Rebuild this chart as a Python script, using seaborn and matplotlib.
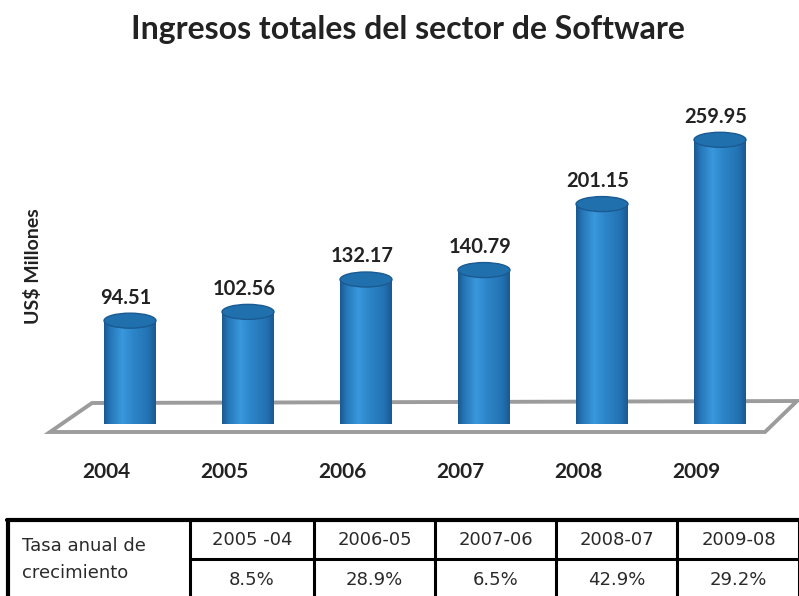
import numpy as np
import matplotlib
matplotlib.use("Agg")
import matplotlib.pyplot as plt
import seaborn as sns
from matplotlib.colors import LinearSegmentedColormap
from matplotlib.patches import Ellipse, Polygon
from matplotlib.transforms import offset_copy

# data
years = ["2004", "2005", "2006", "2007", "2008", "2009"]
ingresos = [94.51, 102.56, 132.17, 140.79, 201.15, 259.95]
periodos = ["2005 -04", "2006-05", "2007-06", "2008-07", "2009-08"]
tasas = ["8.5%", "28.9%", "6.5%", "42.9%", "29.2%"]

sns.set_style("white")
plt.rcParams["font.family"] = ["Lato", "DejaVu Sans"]

W, H = 799, 596
fig = plt.figure(figsize=(W / 100, H / 100), dpi=100)
base_px, top_px = 424, 96  # y pixel of value 0 and value 300
ax = fig.add_axes([71 / W, (H - base_px) / H, 708 / W, (base_px - top_px) / H])

bar_w = 0.44
sns.barplot(x=years, y=ingresos, color="#2a80c4", width=bar_w, ax=ax,
            saturation=1, zorder=3)
ax.set_xlim(-0.5, 5.5)
ax.set_ylim(0, 300)
sns.despine(ax=ax, left=True, bottom=True)
ax.set_yticks([])
ax.tick_params(axis="x", length=0, pad=27)
for lab in ax.get_xticklabels():
    lab.set_fontsize(15)
    lab.set_fontweight("bold")
    lab.set_color("#222222")
    lab.set_transform(offset_copy(lab.get_transform(), fig=fig, x=-24, units="dots"))
ax.set_xlabel("")
ax.set_ylabel("US$ Millones", fontsize=14, fontweight="bold", color="#222222")
ax.yaxis.set_label_coords(-29 / 708, 0.48)

# floor slab (figure pixels)
def fp(x, y):
    return (x / W, 1 - y / H)

floor = Polygon([fp(50, 432), fp(765, 432), fp(797, 401), fp(92, 403)],
                closed=True, facecolor="white", edgecolor="#9c9c9c", lw=2.8,
                transform=fig.transFigure, zorder=0)
fig.add_artist(floor)
ax.set_zorder(1)
ax.patch.set_alpha(0)

# cylinder shading
cmap = LinearSegmentedColormap.from_list(
    "cyl", [(0, "#1a5a92"), (0.12, "#2677b8"), (0.35, "#3a98dc"),
            (0.55, "#2d86c9"), (0.85, "#2373b4"), (1, "#1a5a92")])
grad = np.linspace(0, 1, 64).reshape(1, -1)
ell_h = 15 * 300 / (base_px - top_px)  # ellipse height in data units (~15 px)
for patch, val in zip(ax.patches, ingresos):
    x0, w = patch.get_x(), patch.get_width()
    xc = x0 + w / 2
    patch.set_alpha(0)
    ax.imshow(grad, cmap=cmap, aspect="auto", extent=[x0, x0 + w, 0, val],
              zorder=3, interpolation="bilinear")
    # rounded bottom
    bot = Ellipse((xc, 0), w, ell_h, facecolor="#2473b4", edgecolor="none", zorder=2.9)
    ax.add_patch(bot)
    # top face
    top = Ellipse((xc, val), w, ell_h, facecolor="#2170ae", edgecolor="#1a5a92",
                  lw=1, zorder=4)
    ax.add_patch(top)
    ax.annotate(f"{val:.2f}", (xc, val + ell_h / 2), xytext=(-3, 4),
                textcoords="offset points", ha="center", va="bottom",
                fontsize=14.5, fontweight="bold", color="#222222", zorder=5)
ax.set_xlim(-0.5, 5.5)
ax.set_ylim(0, 300)

fig.text(408 / W, 1 - 30 / H, "Ingresos totales del sector de Software",
         ha="center", va="center", fontsize=23, fontweight="bold", color="#222222")

# growth table at the bottom
tfont = ["DejaVu Sans"]
tcol = "#2a2a2a"
top_y, mid_y, bot_y = 520, 559, 600
cols = [8, 190, 314, 435, 556, 677, 800]
def hline(y, x0, x1, lw):
    fig.add_artist(plt.Line2D([x0 / W, x1 / W], [1 - y / H, 1 - y / H],
                              color="black", lw=lw, transform=fig.transFigure))
def vline(x, y0, y1, lw):
    fig.add_artist(plt.Line2D([x / W, x / W], [1 - y0 / H, 1 - y1 / H],
                              color="black", lw=lw, transform=fig.transFigure))
hline(top_y, cols[0] - 1, cols[-1], 3)
hline(mid_y, cols[1], cols[-1], 2.2)
for i, cx in enumerate(cols[:-1]):
    vline(cx, top_y, bot_y, 3 if i == 0 else 2.2)
vline(cols[-1] - 1.5, top_y, bot_y, 2.2)
fig.text(22 / W, 1 - 546 / H, "Tasa anual de", ha="left", va="center",
         fontsize=13, family=tfont, color=tcol)
fig.text(22 / W, 1 - 573 / H, "crecimiento", ha="left", va="center",
         fontsize=13, family=tfont, color=tcol)
for i, (p, t) in enumerate(zip(periodos, tasas)):
    cx = (cols[i + 1] + cols[i + 2]) / 2
    fig.text(cx / W, 1 - 540 / H, p, ha="center", va="center", fontsize=13,
             family=tfont, color=tcol)
    fig.text(cx / W, 1 - 580 / H, t, ha="center", va="center", fontsize=13,
             family=tfont, color=tcol)

fig.savefig("out.png", dpi=100)
